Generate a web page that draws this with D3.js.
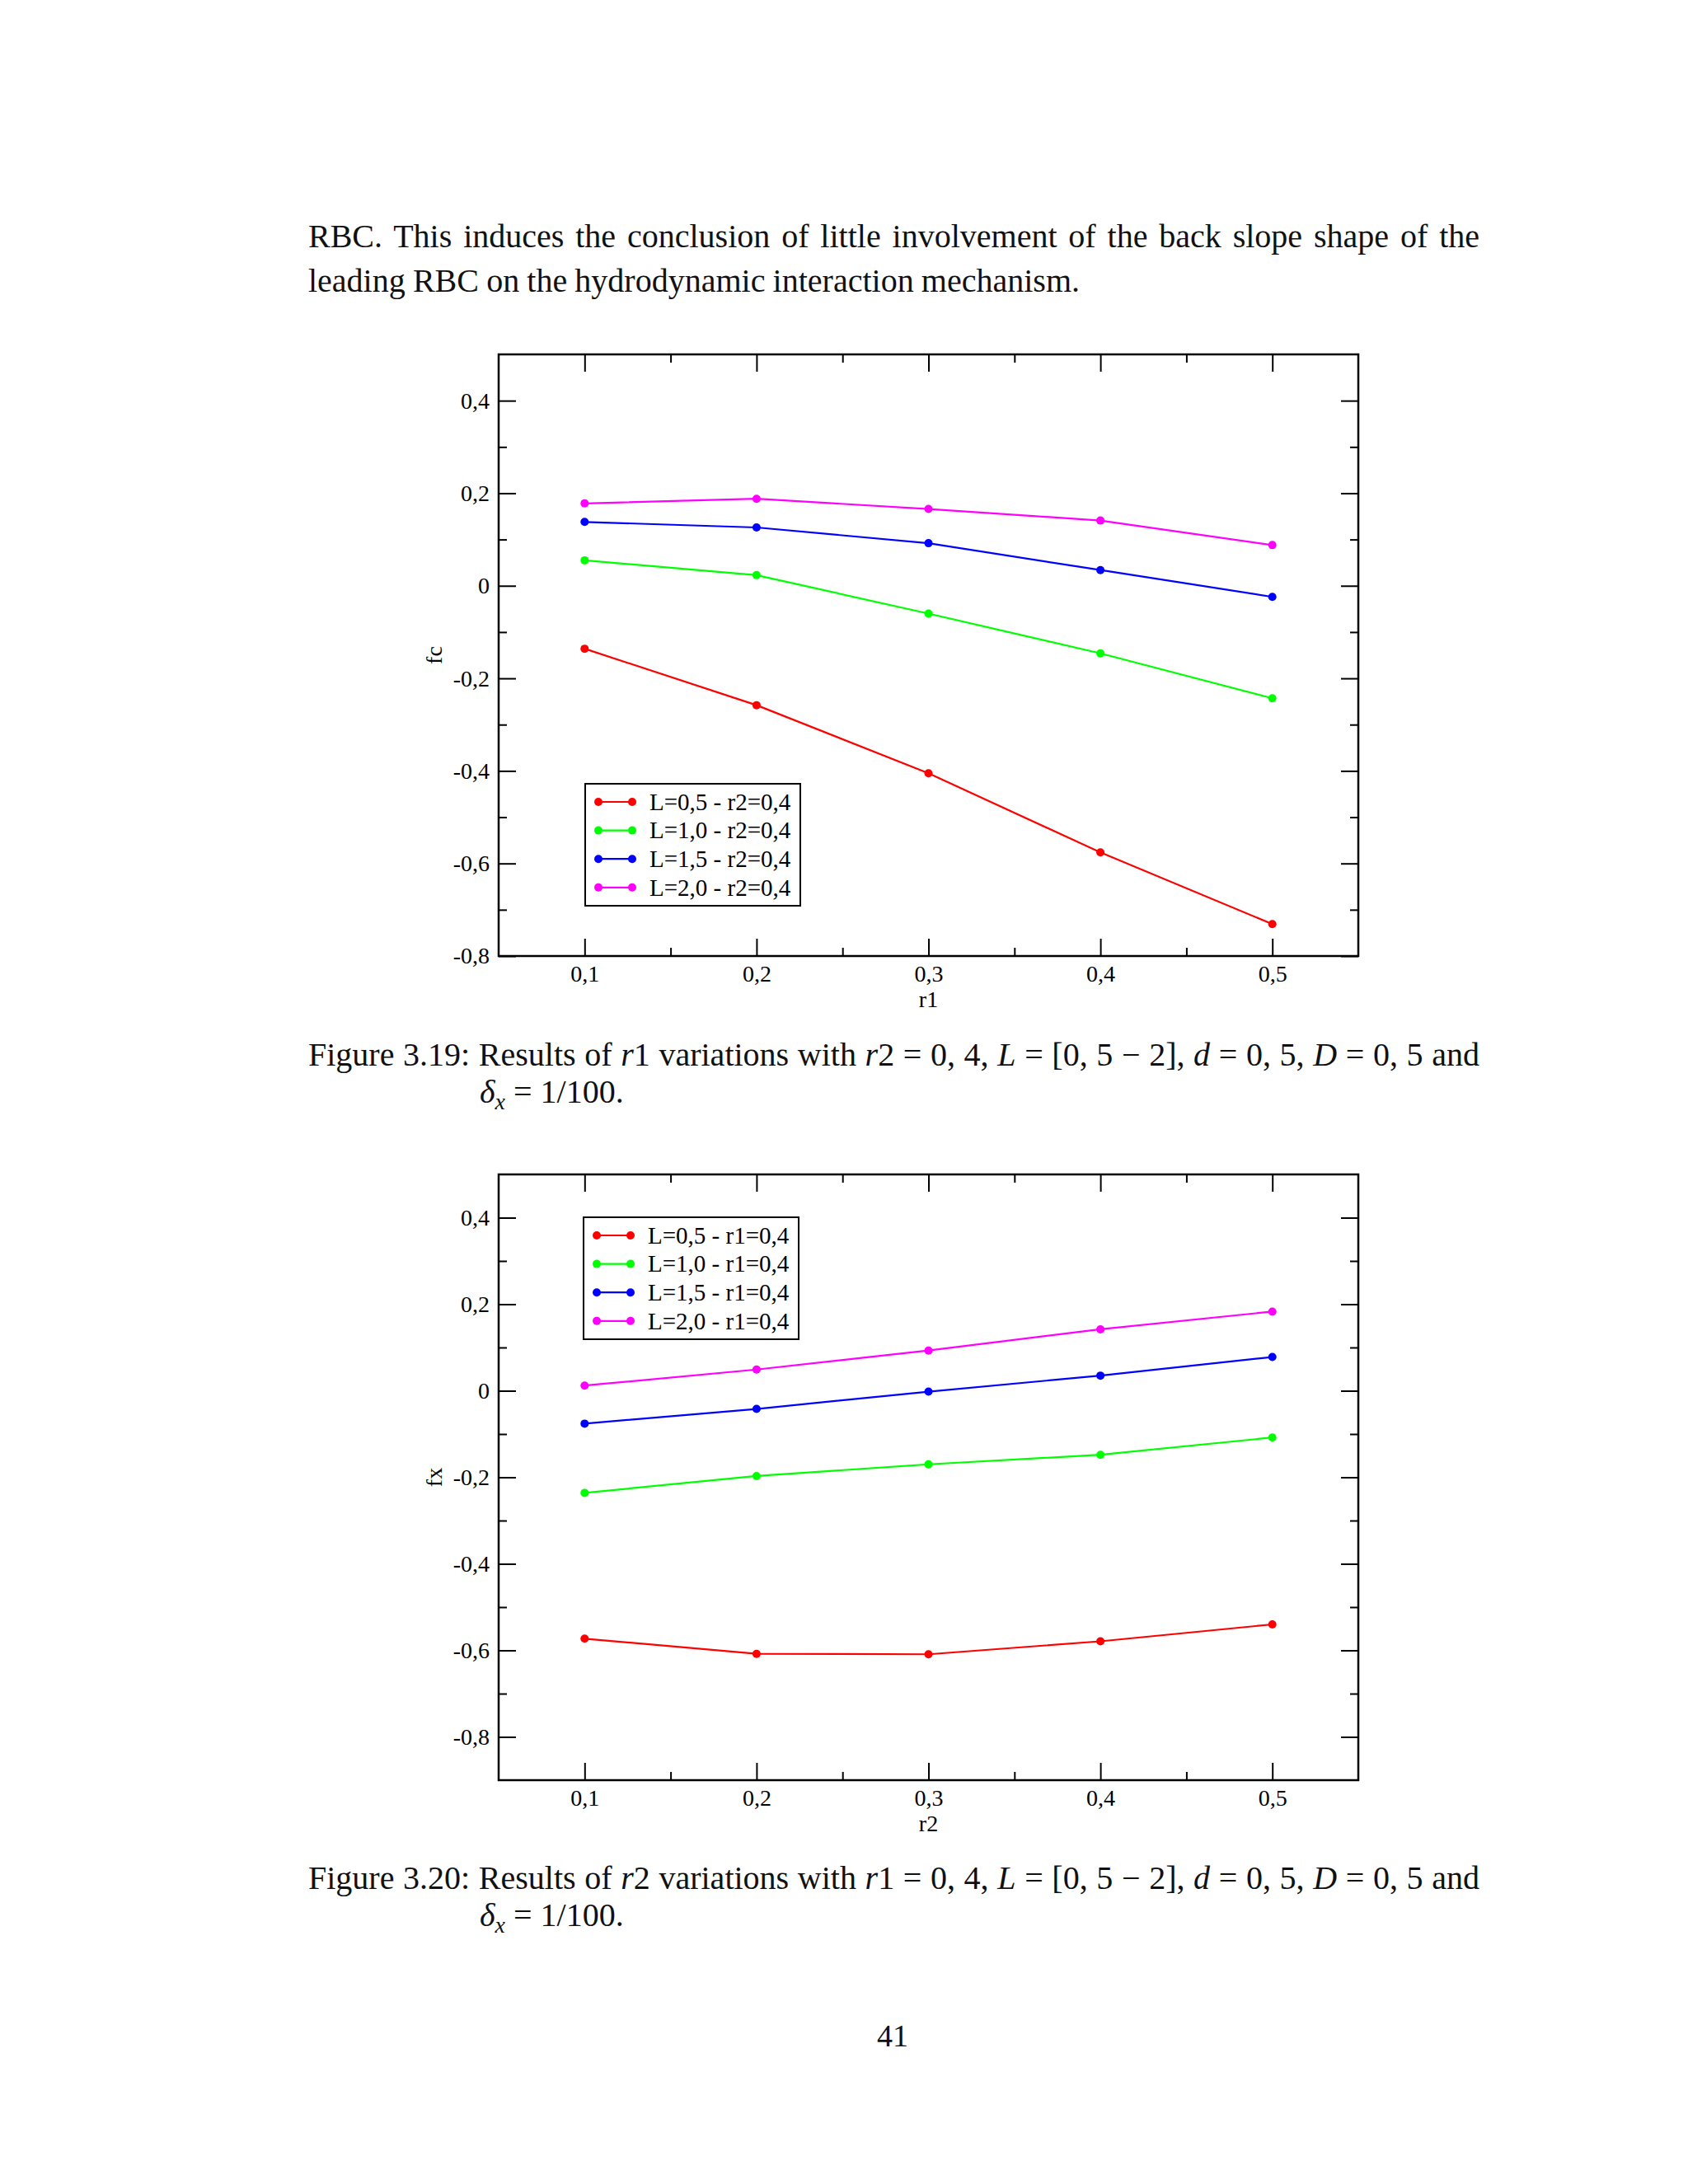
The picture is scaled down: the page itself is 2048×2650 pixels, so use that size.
<!DOCTYPE html>
<html>
<head>
<meta charset="utf-8">
<script src="https://cdn.jsdelivr.net/npm/d3@7"></script>
<style>
  html, body { margin: 0; padding: 0; background: #fff; }
  svg { display: block; }
</style>
</head>
<body>
<svg id="page" width="2048" height="2650"></svg>
<script>
// ---- data ----
var rValues = [0.1, 0.2, 0.3, 0.4, 0.5];

var fcL05 = [-0.136, -0.258, -0.405, -0.576, -0.731];
var fcL10 = [0.055, 0.023, -0.060, -0.146, -0.243];
var fcL15 = [0.138, 0.126, 0.092, 0.034, -0.024];
var fcL20 = [0.178, 0.188, 0.166, 0.141, 0.088];

var fxL05 = [-0.573, -0.608, -0.609, -0.579, -0.540];
var fxL10 = [-0.236, -0.197, -0.170, -0.148, -0.108];
var fxL15 = [-0.076, -0.042, -0.002, 0.035, 0.078];
var fxL20 = [0.012, 0.049, 0.093, 0.142, 0.183];

var legend1 = ["L=0,5 - r2=0,4", "L=1,0 - r2=0,4", "L=1,5 - r2=0,4", "L=2,0 - r2=0,4"];
var legend2 = ["L=0,5 - r1=0,4", "L=1,0 - r1=0,4", "L=1,5 - r1=0,4", "L=2,0 - r1=0,4"];

var xMajor = [0.1, 0.2, 0.3, 0.4, 0.5];
var xMinor = [0.15, 0.25, 0.35, 0.45];
var yMajor = [-0.8, -0.6, -0.4, -0.2, 0, 0.2, 0.4];
var yMinor = [-0.7, -0.5, -0.3, -0.1, 0.1, 0.3];

var colors = ["#ff0000", "#00ff00", "#0000ff", "#ff00ff"];

// ---- helpers ----
var svg = d3.select("#page");
var chartFont = "Liberation Serif";
var bodyFont = "Liberation Serif";

var fmt = function(d){
   if (Math.abs(d) < 1e-9) return "0";
   return (d < 0 ? "-" : "") + Math.abs(d).toFixed(1).replace(".", ",");
};

var drawPlot = function(cfg){
   var x = d3.scaleLinear().domain([0.05, 0.55]).range([cfg.left, cfg.right]);
   var y = d3.scaleLinear().domain(cfg.ydom).range([cfg.bottom, cfg.top]);
   var g = svg.append("g").attr("font-family", chartFont);

   var axes = [
      {mk: function(){ return d3.axisBottom(x); }, t: "translate(0," + cfg.bottom + ")", vals: xMajor, minor: xMinor, lab: true},
      {mk: function(){ return d3.axisTop(x); }, t: "translate(0," + cfg.top + ")", vals: xMajor, minor: xMinor, lab: false},
      {mk: function(){ return d3.axisLeft(y); }, t: "translate(" + cfg.left + ",0)", vals: yMajor, minor: yMinor, lab: true},
      {mk: function(){ return d3.axisRight(y); }, t: "translate(" + cfg.right + ",0)", vals: yMajor, minor: yMinor, lab: false}
   ];
   axes.forEach(function(ax){
      var major = ax.mk().tickValues(ax.vals).tickSize(-21).tickPadding(11)
         .tickFormat(ax.lab ? fmt : "");
      var gm = g.append("g").attr("transform", ax.t).call(major)
         .attr("font-family", chartFont).attr("font-size", 28);
      gm.select(".domain").remove();
      gm.selectAll("line").attr("stroke", "#000").attr("stroke-width", 2);
      gm.selectAll("text").attr("fill", "#000");
      var minorAxis = ax.mk().tickValues(ax.minor).tickSize(-10).tickFormat("");
      var gn = g.append("g").attr("transform", ax.t).call(minorAxis);
      gn.select(".domain").remove();
      gn.selectAll("line").attr("stroke", "#000").attr("stroke-width", 2);
   });

   g.append("rect")
      .attr("x", cfg.left).attr("y", cfg.top)
      .attr("width", cfg.right - cfg.left).attr("height", cfg.bottom - cfg.top)
      .attr("fill", "none").attr("stroke", "#000").attr("stroke-width", 2.5);

   var line = d3.line().x(function(d){ return x(d[0]); }).y(function(d){ return y(d[1]); });
   cfg.series.forEach(function(s, i){
      var pts = rValues.map(function(v, j){ return [v, s[j]]; });
      g.append("path").datum(pts)
         .attr("d", line).attr("fill", "none")
         .attr("stroke", colors[i]).attr("stroke-width", 2.2);
      g.selectAll(null).data(pts).enter().append("circle")
         .attr("cx", function(d){ return x(d[0]); })
         .attr("cy", function(d){ return y(d[1]); })
         .attr("r", 5).attr("fill", colors[i]);
   });

   // legend
   var lg = g.append("g").attr("transform", "translate(" + cfg.legX + "," + cfg.legY + ")");
   lg.append("rect").attr("x", 0).attr("y", 0).attr("width", 261).attr("height", 148)
      .attr("fill", "#fff").attr("stroke", "#000").attr("stroke-width", 2);
   cfg.legend.forEach(function(name, i){
      var ry = 22 + i * 34.6;
      lg.append("line").attr("x1", 16).attr("x2", 57).attr("y1", ry).attr("y2", ry)
         .attr("stroke", colors[i]).attr("stroke-width", 2.2);
      [16, 57].forEach(function(cx){
         lg.append("circle").attr("cx", cx).attr("cy", ry).attr("r", 5).attr("fill", colors[i]);
      });
      lg.append("text").attr("x", 78).attr("y", ry).attr("dy", "0.34em")
         .attr("font-size", 29).attr("fill", "#000").text(name);
   });

   // axis titles
   g.append("text").attr("x", (cfg.left + cfg.right) / 2).attr("y", cfg.bottom + 62)
      .attr("text-anchor", "middle").attr("font-size", 28).text(cfg.xlabel);
   g.append("text")
      .attr("transform", "translate(" + (cfg.left - 79) + "," + ((cfg.top + cfg.bottom) / 2) + ") rotate(-90)")
      .attr("dy", "0.34em").attr("text-anchor", "middle").attr("font-size", 28).text(cfg.ylabel);
};

// text line made of runs: [string, style]; style: "i" italic, "sub" italic subscript
var textLine = function(x, yb, runs, width){
   var t = svg.append("text").attr("x", x).attr("y", yb)
      .attr("font-family", bodyFont).attr("font-size", 40).attr("fill", "#111")
      .attr("xml:space", "preserve");
   runs.forEach(function(r){
      var ts = t.append("tspan").text(r[0]);
      if (r[1] === "i") ts.attr("font-style", "italic");
      if (r[1] === "sub") ts.attr("font-style", "italic").attr("font-size", 28).attr("dy", 8);
      if (r[1] === "after") ts.attr("dy", -8);
   });
   if (width) {
      var natural = t.node().getComputedTextLength();
      var full = runs.map(function(r){ return r[0]; }).join("");
      var spaces = (full.match(/ /g) || []).length;
      if (spaces > 0) t.attr("word-spacing", (width - natural) / spaces);
   }
   return t;
};

// ---- page text ----
textLine(374, 300, [["RBC. This induces the conclusion of little involvement of the back slope shape of the"]], 1421);
textLine(374, 354, [["leading RBC on the hydrodynamic interaction mechanism."]], 936);

// ---- figure 3.19 ----
drawPlot({
   left: 605, right: 1648, top: 430, bottom: 1160, ydom: [-0.8, 0.5],
   series: [fcL05, fcL10, fcL15, fcL20], legend: legend1,
   legX: 710, legY: 951, xlabel: "r1", ylabel: "fc"
});

textLine(374, 1293, [["Figure 3.19: Results of "], ["r", "i"], ["1 variations with "], ["r", "i"],
   ["2 = 0, 4, "], ["L", "i"], [" = [0, 5 \u2212 2], "], ["d", "i"], [" = 0, 5, "], ["D", "i"], [" = 0, 5 and"]], 1421);
textLine(582, 1338, [["\u03B4", "i"], ["x", "sub"], [" = 1/100.", "after"]]);

// ---- figure 3.20 ----
drawPlot({
   left: 605, right: 1648, top: 1425, bottom: 2160, ydom: [-0.9, 0.5],
   series: [fxL05, fxL10, fxL15, fxL20], legend: legend2,
   legX: 708, legY: 1477, xlabel: "r2", ylabel: "fx"
});

textLine(374, 2292, [["Figure 3.20: Results of "], ["r", "i"], ["2 variations with "], ["r", "i"],
   ["1 = 0, 4, "], ["L", "i"], [" = [0, 5 \u2212 2], "], ["d", "i"], [" = 0, 5, "], ["D", "i"], [" = 0, 5 and"]], 1421);
textLine(582, 2337, [["\u03B4", "i"], ["x", "sub"], [" = 1/100.", "after"]]);

// page number
svg.append("text").attr("x", 1083).attr("y", 2483).attr("text-anchor", "middle")
   .attr("font-family", bodyFont).attr("font-size", 38).attr("fill", "#111").text("41");
</script>
</body>
</html>
